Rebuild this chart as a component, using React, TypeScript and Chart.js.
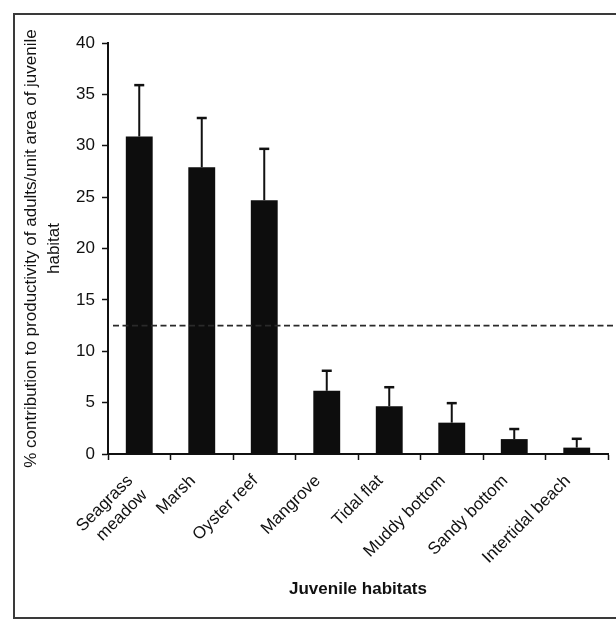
import React, { useEffect, useRef } from "react";
import { Chart, registerables } from "chart.js";

Chart.register(...registerables);

const categories: (string | string[])[] = [
  ["Seagrass", "meadow"],
  "Marsh",
  "Oyster reef",
  "Mangrove",
  "Tidal flat",
  "Muddy bottom",
  "Sandy bottom",
  "Intertidal beach",
];
const values = [30.9, 27.9, 24.7, 6.15, 4.65, 3.05, 1.45, 0.62];
const errorUpper = [35.9, 32.7, 29.7, 8.1, 6.5, 4.95, 2.43, 1.48];
const threshold = 12.5;
const yTicks = [0, 5, 10, 15, 20, 25, 30, 35, 40];

const FONT = "'Liberation Sans', Arial, sans-serif";

const framePlugin = {
  id: "frame",
  beforeDraw(chart: any) {
    const ctx = chart.ctx;
    ctx.save();
    ctx.strokeStyle = "#3a3a3a";
    ctx.lineWidth = 2;
    ctx.strokeRect(14, 14, 700, 604);
    ctx.restore();
  },
};

const errorAndLinePlugin = {
  id: "errorBarsLine",
  afterDatasetsDraw(chart: any) {
    const ctx = chart.ctx;
    const y = chart.scales.y;
    const meta = chart.getDatasetMeta(0);
    ctx.save();
    const ty = y.getPixelForValue(threshold);
    ctx.strokeStyle = "#2a2a2a";
    ctx.lineWidth = 1.8;
    ctx.setLineDash([6, 3.5]);
    ctx.beginPath();
    ctx.moveTo(chart.chartArea.left + 5, ty);
    ctx.lineTo(chart.width, ty);
    ctx.stroke();
    ctx.setLineDash([]);
    ctx.strokeStyle = "#111";
    meta.data.forEach((bar: any, i: number) => {
      const yt = y.getPixelForValue(errorUpper[i]);
      ctx.lineWidth = 2;
      ctx.beginPath();
      ctx.moveTo(bar.x, bar.y);
      ctx.lineTo(bar.x, yt);
      ctx.stroke();
      ctx.lineWidth = 2.5;
      ctx.beginPath();
      ctx.moveTo(bar.x - 5, yt);
      ctx.lineTo(bar.x + 5, yt);
      ctx.stroke();
    });
    ctx.restore();
  },
};

export default function App() {
  const ref = useRef<HTMLCanvasElement>(null);
  useEffect(() => {
    if (!ref.current) return;
    const chart = new Chart(ref.current, {
      type: "bar",
      data: {
        labels: categories,
        datasets: [
          {
            data: values,
            backgroundColor: "#0d0d0d",
            borderWidth: 0,
            barPercentage: 0.43,
            categoryPercentage: 1,
          },
        ],
      },
      options: {
        animation: false,
        responsive: false,
        devicePixelRatio: 1,
        layout: { padding: { left: 0, right: 8, top: 43, bottom: 0 } },
        plugins: {
          legend: { display: false },
          tooltip: { enabled: false },
        },
        scales: {
          x: {
            grid: {
              display: true,
              drawOnChartArea: false,
              drawTicks: true,
              tickLength: 6,
              tickWidth: 1.5,
              color: "#111",
              offset: true,
            },
            border: { display: true, color: "#111", width: 2 },
            ticks: {
              color: "#111",
              font: { family: FONT, size: 17 },
              minRotation: 45,
              maxRotation: 45,
              padding: 11,
              labelOffset: -9,
              autoSkip: false,
            },
            title: {
              display: true,
              text: "Juvenile habitats",
              color: "#111",
              font: { family: FONT, size: 17, weight: "bold" },
              padding: { top: 0, bottom: 20 },
            },
            afterFit(scale: any) {
              scale.height = 166;
            },
          },
          y: {
            min: 0,
            max: 40,
            afterBuildTicks(scale: any) {
              scale.ticks = yTicks.map((v) => ({ value: v }));
            },
            grid: {
              display: true,
              drawOnChartArea: false,
              drawTicks: true,
              tickLength: 6,
              tickWidth: 1.5,
              color: "#111",
            },
            border: { display: true, color: "#111", width: 2 },
            ticks: {
              color: "#111",
              font: { family: FONT, size: 17 },
              padding: 7,
            },
            title: {
              display: true,
              text: [
                "% contribution to productivity of adults/unit area of juvenile",
                "habitat",
              ],
              color: "#111",
              font: { family: FONT, size: 17, lineHeight: 1.35 },
              padding: { top: 20, bottom: 0 },
            },
            afterFit(scale: any) {
              scale.width = 108;
            },
          },
        },
      },
      plugins: [framePlugin, errorAndLinePlugin],
    });
    return () => chart.destroy();
  }, []);
  return (
    <div style={{ position: "absolute", left: 0, top: 0, width: 616, height: 620, background: "#fff" }}>
      <canvas ref={ref} width={616} height={620} style={{ display: "block" }} />
    </div>
  );
}
